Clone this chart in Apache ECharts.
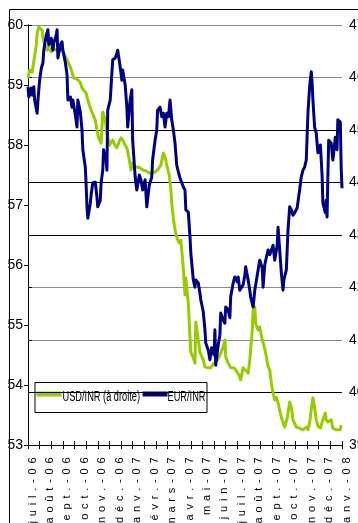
<!DOCTYPE html>
<html>
<head>
<meta charset="utf-8">
<script src="https://cdn.jsdelivr.net/npm/echarts@6/dist/echarts.min.js"></script>
<style>
  html, body { margin: 0; padding: 0; background: #fff; }
  #chart { width: 358px; height: 523px; }
</style>
</head>
<body>
<div id="chart"></div>
<script>
// Month labels on the trading-day axis (one label every 21 sessions)
const monthLabels = ['juil.-06', 'août-06', 'sept.-06', 'oct.-06', 'nov.-06', 'déc.-06',
  'janv.-07', 'févr.-07', 'mars-07', 'avr.-07', 'mai-07', 'juin-07', 'juil.-07', 'août-07',
  'sept.-07', 'oct.-07', 'nov.-07', 'déc.-07', 'janv.-08'];

// Series names, in legend order
const usdName = 'USD/INR (à droite)';
const eurName = 'EUR/INR';

// USD/INR (right axis): trading-day index and rate
const usdDay = [0, 2, 5, 7, 10, 11, 13, 14, 17, 18, 20, 23, 25, 28, 30, 34, 36, 39, 42, 46,
  48, 51, 53, 55, 59, 63, 65, 67, 70, 72, 75, 77, 81, 83, 85, 88, 90, 93, 95, 98,
  100, 102, 105, 107, 110, 112, 114, 117, 119, 122, 124, 126, 129, 131, 135, 138, 142, 146, 149, 153,
  156, 160, 163, 165, 167, 170, 172, 173, 175, 177, 179, 182, 184, 187, 189, 190, 193, 195, 196, 199,
  201, 202, 205, 207, 208, 211, 213, 217, 220, 224, 228, 231, 235, 237, 238, 241, 244, 248, 250, 254,
  256, 259, 261, 265, 267, 270, 271, 273, 274, 277, 279, 282, 284, 287, 289, 291, 293, 295, 297, 299,
  301, 303, 305, 307, 309, 312, 313, 315, 317, 319, 323, 327, 331, 335, 337, 339, 341, 343, 345, 347,
  349, 352, 355, 358, 359, 361, 365, 367, 371, 373, 376, 377];
const usdRate = [45.99, 46.14, 46.10, 46.30, 46.62, 46.85, 46.96, 46.98, 46.90, 46.75, 46.62, 46.52, 46.58, 46.49, 46.56, 46.52, 46.58, 46.54, 46.49, 46.37,
  46.30, 46.20, 46.10, 45.99, 45.97, 45.91, 45.80, 45.76, 45.70, 45.57, 45.42, 45.34, 45.19, 45.00, 44.85, 44.75, 45.34, 45.19, 44.94, 44.71,
  44.68, 44.81, 44.70, 44.66, 44.79, 44.85, 44.81, 44.71, 44.66, 44.43, 44.24, 44.37, 44.30, 44.31, 44.28, 44.24, 44.22, 44.18, 44.18, 44.20,
  44.24, 44.33, 44.56, 44.49, 44.33, 44.14, 43.86, 43.61, 43.32, 43.10, 42.96, 42.85, 42.90, 42.37, 41.86, 42.18, 41.70, 41.06, 40.77, 40.66,
  40.56, 41.34, 41.00, 40.77, 40.75, 40.62, 40.49, 40.47, 40.47, 40.56, 40.62, 40.71, 40.87, 41.00, 40.68, 40.56, 40.47, 40.47, 40.43, 40.33,
  40.24, 40.47, 40.49, 40.37, 40.62, 41.19, 41.57, 41.63, 41.32, 41.19, 41.25, 41.00, 40.90, 40.68, 40.49, 40.43, 40.18, 39.99, 39.86, 39.91,
  39.80, 39.82, 39.53, 39.42, 39.34, 39.51, 39.61, 39.82, 39.72, 39.48, 39.34, 39.32, 39.29, 39.34, 39.29, 39.42, 39.67, 39.90, 39.72, 39.48,
  39.36, 39.32, 39.48, 39.61, 39.48, 39.44, 39.48, 39.32, 39.29, 39.29, 39.29, 39.38];

// EUR/INR (left axis): trading-day index and rate
const eurDay = [0, 1, 4, 5, 7, 8, 11, 12, 14, 16, 18, 19, 22, 24, 25, 28, 30, 31, 34, 35,
  36, 39, 41, 42, 45, 47, 48, 51, 53, 54, 57, 59, 60, 63, 65, 66, 69, 70, 71, 72,
  75, 76, 78, 81, 83, 84, 87, 88, 90, 91, 94, 95, 96, 99, 101, 102, 105, 107, 108, 111,
  113, 114, 117, 119, 120, 123, 125, 126, 129, 131, 134, 136, 138, 141, 143, 146, 148, 149, 150, 153,
  155, 156, 159, 161, 163, 165, 167, 169, 171, 173, 175, 177, 179, 181, 183, 184, 187, 189, 190, 193,
  195, 196, 199, 201, 202, 205, 207, 208, 211, 213, 214, 217, 219, 221, 224, 225, 226, 229, 231, 232,
  235, 237, 238, 241, 243, 244, 247, 249, 252, 253, 255, 256, 259, 261, 262, 265, 267, 268, 271, 273,
  276, 278, 279, 282, 283, 285, 287, 289, 291, 293, 295, 297, 300, 301, 303, 305, 307, 308, 311, 313,
  315, 317, 319, 321, 324, 325, 327, 329, 331, 333, 335, 337, 339, 341, 342, 343, 345, 347, 349, 352,
  353, 354, 355, 358, 359, 360, 361, 362, 365, 367, 370, 372, 373, 376, 377, 378];
const eurRate = [58.97, 58.80, 58.95, 58.83, 58.97, 58.75, 58.53, 58.75, 59.08, 59.28, 59.37, 59.58, 59.83, 59.92, 59.67, 59.78, 59.58, 59.70, 59.83, 59.92,
  59.45, 59.67, 59.72, 59.58, 59.37, 59.17, 58.75, 58.80, 58.63, 58.75, 58.50, 58.30, 58.75, 58.55, 58.25, 57.92, 57.63, 57.33, 56.97, 56.78,
  57.03, 57.17, 57.37, 57.38, 57.13, 56.97, 57.08, 57.37, 57.58, 57.92, 57.75, 57.58, 58.58, 58.75, 59.20, 59.42, 59.45, 59.53, 59.58, 59.30,
  59.08, 59.25, 59.00, 58.63, 58.30, 58.75, 58.92, 58.08, 57.47, 57.25, 57.50, 57.42, 57.25, 57.42, 56.97, 57.33, 57.42, 57.47, 57.75, 58.08,
  58.25, 58.58, 58.63, 58.47, 58.53, 58.30, 58.53, 58.47, 58.75, 58.42, 58.25, 58.03, 57.67, 57.55, 57.45, 57.42, 57.30, 57.25, 56.92, 56.88,
  56.47, 56.20, 55.75, 55.63, 55.75, 55.70, 55.53, 55.42, 55.22, 54.92, 54.70, 54.58, 54.42, 54.62, 54.50, 54.92, 54.33, 54.67, 54.83, 55.20,
  55.08, 55.03, 55.30, 55.25, 55.12, 55.47, 55.70, 55.80, 55.72, 55.80, 55.58, 55.58, 55.67, 55.83, 55.97, 55.75, 55.58, 55.47, 55.30, 55.58,
  55.83, 56.00, 56.08, 55.95, 55.63, 56.00, 56.13, 56.25, 56.17, 56.25, 56.33, 56.08, 56.33, 56.63, 56.25, 55.87, 55.58, 55.75, 55.92, 56.58,
  56.97, 56.92, 56.83, 56.87, 56.95, 56.97, 57.25, 57.47, 57.58, 57.63, 57.75, 58.53, 58.97, 59.22, 59.05, 58.75, 58.30, 58.20, 57.87, 58.00,
  57.75, 57.50, 57.03, 56.87, 57.08, 56.80, 57.47, 58.08, 58.03, 57.75, 58.13, 57.92, 58.42, 58.38, 57.63, 57.28];

const zip = (xs, ys) => xs.map((x, i) => [x, ys[i]]);

const FONT = "'Liberation Sans', Arial, sans-serif";
const LAST_DAY = 378;
const GREEN = '#99cc00';
const NAVY = '#000080';

// Spread the characters of a rotated date label
const spaced = (s) => s.split('').map(c => '{s|' + c + '}').join('');

// Boxed legend with condensed captions
function legendBox(x, y) {
  const narrow = 0.66;
  const cap = (text, left) => ({
    type: 'text', x: left, y: 15, scaleX: narrow,
    style: { text, fontFamily: FONT, fontSize: 14, fill: '#000', verticalAlign: 'middle', align: 'left' }
  });
  const swatch = (color, x1) => ({
    type: 'line', shape: { x1, y1: 12, x2: x1 + 25, y2: 12 },
    style: { stroke: color, lineWidth: 5 }
  });
  return {
    type: 'group', left: x, top: y, z: 100,
    children: [
      { type: 'rect', shape: { x: 0.5, y: 0.5, width: 172, height: 30 }, style: { fill: '#fff', stroke: '#000', lineWidth: 1 } },
      swatch(GREEN, 2), cap(usdName, 28),
      swatch(NAVY, 108), cap(eurName, 133)
    ]
  };
}

const chart = echarts.init(document.getElementById('chart'), null, { renderer: 'canvas' });

chart.setOption({
  backgroundColor: '#fff',
  animation: false,
  textStyle: { fontFamily: FONT },
  graphic: [{
    type: 'rect', left: 7, top: 7, z: -10,
    shape: { width: 400, height: 600 },
    style: { fill: 'none', stroke: '#000', lineWidth: 1 }
  }, legendBox(34, 382)],
  grid: { left: 28, right: 16, top: 25, bottom: 78, containLabel: false, outerBoundsMode: 'none' },
  xAxis: [{
    type: 'value', min: 0, max: LAST_DAY, interval: 21,
    axisLine: { show: true, onZero: false, lineStyle: { color: '#000', width: 1 } },
    axisTick: { show: false },
    splitLine: { show: false },
    axisLabel: {
      rotate: 90, margin: 10, showMinLabel: true, showMaxLabel: true,
      padding: [9, 0, 0, 0],
      formatter: (v) => spaced(monthLabels[Math.round(v / 21)] || ''),
      rich: { s: { fontSize: 11, fontFamily: FONT, color: '#000', padding: [0, 2.4, 0, 2.4] } }
    }
  }, {
    type: 'value', min: 0, max: LAST_DAY, interval: 14, position: 'bottom',
    axisLine: { show: false, onZero: false },
    axisTick: { show: true, length: 4, lineStyle: { color: '#000' } },
    axisLabel: { show: false }, splitLine: { show: false }
  }, {
    type: 'value', min: 0, max: LAST_DAY, interval: 14, position: 'bottom',
    axisLine: { show: false, onZero: false },
    axisTick: { show: true, inside: true, length: 4, lineStyle: { color: '#000' } },
    axisLabel: { show: false }, splitLine: { show: false }
  }],
  yAxis: [{
    type: 'value', position: 'left', min: 53, max: 60, interval: 1,
    axisLine: { show: true, lineStyle: { color: '#000' } },
    axisTick: { show: true, length: 4, lineStyle: { color: '#000' } },
    axisLabel: { margin: 5, fontSize: 14, color: '#000', fontFamily: FONT },
    splitLine: { show: false }
  }, {
    type: 'value', position: 'right', min: 39, max: 47, interval: 1,
    axisLine: { show: true, lineStyle: { color: '#000' } },
    axisTick: { show: true, length: 4, lineStyle: { color: '#000' } },
    axisLabel: { margin: 7, fontSize: 14, color: '#000', fontFamily: FONT },
    splitLine: {
      show: true,
      lineStyle: { width: 1, color: ['#000', '#000', '#8a8a8a', '#8a8a8a', '#000', '#000', '#000', '#8a8a8a', '#8a8a8a'] }
    }
  }],
  series: [{
    name: usdName, type: 'line', xAxisIndex: 0, yAxisIndex: 1,
    data: zip(usdDay, usdRate),
    symbol: 'none', showSymbol: false,
    lineStyle: { color: GREEN, width: 3, join: 'round' },
    itemStyle: { color: GREEN }
  }, {
    name: eurName, type: 'line', xAxisIndex: 0, yAxisIndex: 0,
    data: zip(eurDay, eurRate),
    symbol: 'none', showSymbol: false,
    lineStyle: { color: NAVY, width: 3, join: 'round' },
    itemStyle: { color: NAVY }
  }]
});
</script>
</body>
</html>
